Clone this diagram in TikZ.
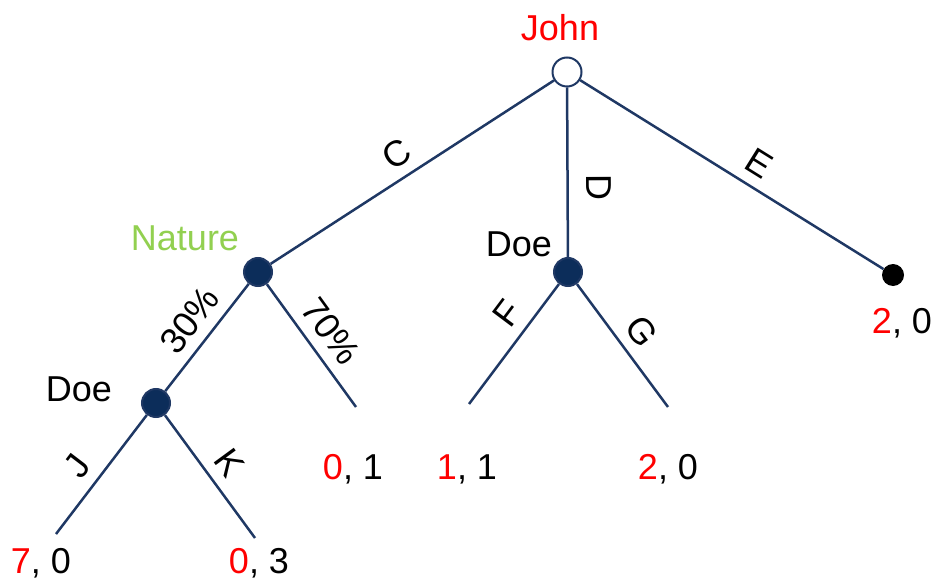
\documentclass[tikz,border=0pt]{standalone}
\usepackage{fontspec}
\setmainfont{Liberation Sans}
\usetikzlibrary{positioning}
\definecolor{navy}{RGB}{31,56,100}
\definecolor{navyfill}{RGB}{12,45,90}
\definecolor{natgreen}{RGB}{146,208,80}
\tikzset{dec/.style={circle,draw=navy,fill=navyfill,line width=2pt,minimum size=28pt,inner sep=0pt},root/.style={dec,fill=white,minimum size=29pt},term/.style={circle,fill=black,minimum size=22pt,inner sep=0pt},branch/.style={draw=navy,line width=2.5pt},act/.style={font=\fontsize{36}{40}\selectfont,sloped,above=7pt},pay/.style={font=\fontsize{36}{40}\selectfont,anchor=base},who/.style={font=\fontsize{36}{40}\selectfont}}

\begin{document}
\begin{tikzpicture}[x=1pt,y=-1pt]
\useasboundingbox (0,0) rectangle (936,585);
\node[root] (john) at (567,72) {};
\node[dec] (nature) at (258,272) {};
\node[dec] (doeA) at (568,272) {};
\node[dec] (doeB) at (156,403) {};
\node[term] (leafE) at (893,275) {};
\coordinate (leafJ) at (56,534);
\coordinate (leafK) at (255,538);
\coordinate (leafN) at (356,407);
\coordinate (leafF) at (469,404);
\coordinate (leafG) at (668,407);
\node[who,text=red] (johnlab) at (560,28) {John};
\node[who,text=natgreen] (naturelab) at (185,238) {Nature};
\node[who] (doeAlab) at (519,244) {Doe};
\node[who] (doeBlab) at (79,389) {Doe};
\draw[branch] (john)--node[act,pos=.51]{C} (nature);
\draw[branch] (john)--node[act,pos=.59,above=14pt]{D} (doeA);
\draw[branch] (john)--node[act,pos=.55]{E} (leafE);
\draw[branch] (nature)--node[act,pos=.48]{30\%} (doeB);
\draw[branch] (nature)--node[act,pos=.5]{70\%} (leafN);
\draw[branch] (doeA)--node[act,pos=.36]{F} (leafF);
\draw[branch] (doeA)--node[act,pos=.5]{G} (leafG);
\draw[branch] (doeB)--node[act,pos=.55]{J} (leafJ);
\draw[branch] (doeB)--node[act,pos=.5]{K} (leafK);
\node[pay] (payE) at (902,333) {\textcolor{red}{2}, 0};
\node[pay] (payN) at (353,479) {\textcolor{red}{0}, 1};
\node[pay] (payF) at (467,479) {\textcolor{red}{1}, 1};
\node[pay] (payG) at (668,479) {\textcolor{red}{2}, 0};
\node[pay] (payJ) at (41,573) {\textcolor{red}{7}, 0};
\node[pay] (payK) at (259,573) {\textcolor{red}{0}, 3};
\end{tikzpicture}
\end{document}
